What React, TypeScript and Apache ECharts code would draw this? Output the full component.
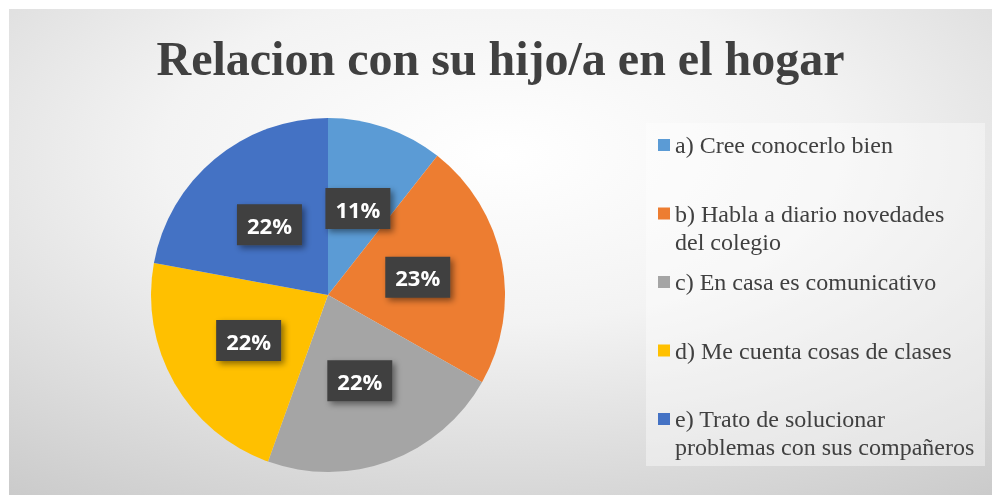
import React, { useEffect, useRef } from "react";
import * as echarts from "echarts";

const titleText = "Relacion con su hijo/a en el hogar";
const categories = [
  "a) Cree conocerlo bien",
  "b) Habla a diario novedades del colegio",
  "c) En casa es comunicativo",
  "d) Me cuenta cosas de clases",
  "e) Trato de solucionar problemas con sus compañeros",
];
const legendLines = [
  ["a) Cree conocerlo bien"],
  ["b) Habla a diario novedades", "del colegio"],
  ["c) En casa es comunicativo"],
  ["d) Me cuenta cosas de clases"],
  ["e) Trato de solucionar", "problemas con sus compañeros"],
];
const values = [10.6, 22.6, 22.3, 22.4, 22.1];
const colors = ["#5B9BD5", "#ED7D31", "#A5A5A5", "#FFC000", "#4472C4"];

export default function App() {
  const ref = useRef<HTMLDivElement>(null);
  useEffect(() => {
    if (!ref.current) return;
    const chart = echarts.init(ref.current, undefined, { renderer: "svg" });
    chart.setOption({
      animation: false,
      backgroundColor: {
        type: "radial",
        x: 0.5,
        y: 0.3,
        r: 1.15,
        colorStops: [
          { offset: 0, color: "#ffffff" },
          { offset: 0.3, color: "#f3f3f3" },
          { offset: 1, color: "#b4b4b4" },
        ],
      },
      title: {
        text: titleText,
        left: "center",
        top: 20,
        padding: [5, 0, 5, 22],
        textStyle: {
          fontFamily: "Liberation Serif",
          fontWeight: "bold",
          fontSize: 48,
          color: "#404040",
        },
      },
      graphic: [
        {
          type: "rect",
          shape: { x: 637, y: 114, width: 339, height: 343 },
          style: { fill: "rgba(255,255,255,0.4)" },
          silent: true,
        },
      ],
      legend: {
        orient: "vertical",
        left: 649,
        top: 94,
        padding: 0,
        itemGap: -15.5,
        itemWidth: 12,
        itemHeight: 12,
        icon: "rect",
        data: categories,
        formatter: (name: string) => {
          const i = categories.indexOf(name);
          const lines = legendLines[i];
          return lines.length === 1 ? " \n" + lines[0] + "\n " : " \n" + lines[0] + "\n" + lines[1];
        },
        textStyle: {
          fontFamily: "Liberation Serif",
          fontSize: 24,
          lineHeight: 28,
          color: "#404040",
        },
      },
      series: [
        {
          type: "pie",
          center: [319, 286],
          radius: 177,
          startAngle: 90,
          clockwise: true,
          color: colors,
          data: categories.map((c, i) => ({ name: c, value: values[i] })),
          labelLine: { show: false },
          label: {
            show: true,
            position: "inside",
            formatter: (p: any) => Math.round(p.percent) + "%",
            color: "#ffffff",
            fontFamily: "Open Sans",
            fontWeight: "bold",
            fontSize: 22,
            lineHeight: 25,
            backgroundColor: "#3f3f3f",
            padding: [8, 10],
            shadowColor: "rgba(0,0,0,0.45)",
            shadowBlur: 6,
            shadowOffsetX: 3,
            shadowOffsetY: 3,
          },
          emphasis: { disabled: true },
        },
      ],
    });
    return () => chart.dispose();
  }, []);
  return (
    <div
      ref={ref}
      style={{ position: "fixed", left: 9, top: 9, width: 983, height: 486 }}
    />
  );
}
